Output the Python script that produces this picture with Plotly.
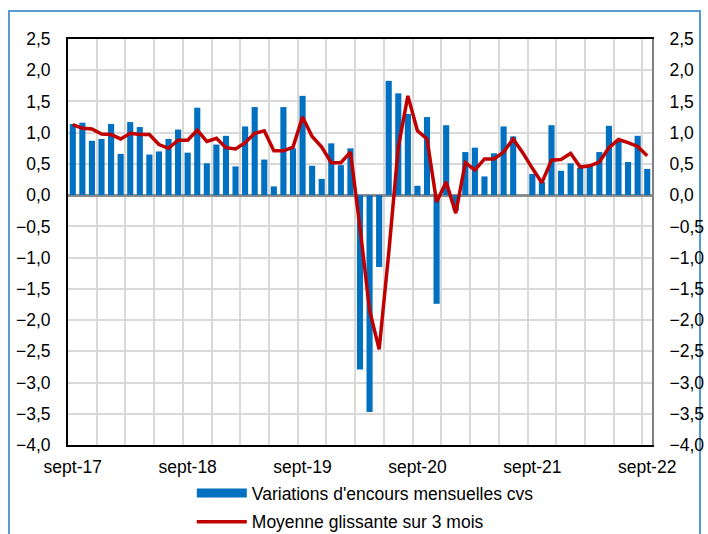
import plotly.graph_objects as go

# Month index 0 = sept-17 ... 60 = sept-22
months = list(range(61))
tick_pos = [0, 12, 24, 36, 48, 60]
tick_labels = ["sept-17", "sept-18", "sept-19", "sept-20", "sept-21", "sept-22"]

bars = [1.14, 1.16, 0.87, 0.90, 1.14, 0.66, 1.17, 1.09, 0.65, 0.70,
        0.90, 1.05, 0.68, 1.40, 0.51, 0.81, 0.95, 0.46, 1.10, 1.41,
        0.57, 0.14, 1.41, 0.75, 1.59, 0.47, 0.26, 0.83, 0.48, 0.75,
        -2.79, -3.47, -1.15, 1.83, 1.63, 1.30, 0.15, 1.25, -1.74, 1.12,
        -0.25, 0.69, 0.76, 0.30, 0.67, 1.10, 0.94, 0.00, 0.34, 0.21,
        1.12, 0.39, 0.51, 0.44, 0.47, 0.69, 1.11, 0.87, 0.53, 0.95,
        0.42]

moving_avg = [1.13, 1.07, 1.06, 0.98, 0.97, 0.90, 0.99, 0.97, 0.97, 0.81,
              0.75, 0.88, 0.88, 1.04, 0.86, 0.91, 0.76, 0.74, 0.84, 0.99,
              1.03, 0.71, 0.71, 0.77, 1.25, 0.94, 0.77, 0.52, 0.52, 0.69,
              -0.52, -1.84, -2.47, -0.93, 0.77, 1.59, 1.03, 0.90, -0.11, 0.21,
              -0.29, 0.52, 0.40, 0.58, 0.58, 0.69, 0.90, 0.68, 0.43, 0.20,
              0.56, 0.57, 0.67, 0.45, 0.47, 0.53, 0.76, 0.89, 0.84, 0.78,
              0.63]

y_ticks = [2.5, 2.0, 1.5, 1.0, 0.5, 0.0, -0.5, -1.0, -1.5, -2.0, -2.5, -3.0, -3.5, -4.0]

bar_name = "Variations d'encours mensuelles cvs"
line_name = "Moyenne glissante sur 3 mois"

BLUE = "#0070C0"
RED = "#C00000"
font = dict(family="Liberation Sans, Arial, sans-serif", size=17.5, color="#000000")

fig = go.Figure()
fig.add_trace(go.Bar(
    x=months, y=bars, name=bar_name,
    marker=dict(color=BLUE, line=dict(width=0)),
    showlegend=False, legendgroup="a",
))
# legend entry for the bars (wide rectangle key, as in the original)
fig.add_trace(go.Scatter(
    x=[None], y=[None], mode="lines", name=bar_name,
    line=dict(color=BLUE, width=9), legendgroup="a", hoverinfo="skip",
))
fig.add_trace(go.Scatter(
    x=months, y=moving_avg, mode="lines", name=line_name,
    line=dict(color=RED, width=3.5), legendgroup="b",
))
# invisible trace to carry the right-hand axis
fig.add_trace(go.Scatter(x=[0], y=[0], yaxis="y2", mode="markers",
                         marker=dict(opacity=0), showlegend=False, hoverinfo="skip"))

fig.update_layout(
    width=708, height=534,
    margin=dict(l=68, r=56, t=39, b=89, autoexpand=False),
    paper_bgcolor="white", plot_bgcolor="white",
    font=font,
    separators=", ",
    bargap=0.36,
    showlegend=True,
    legend=dict(x=0.212, y=-0.074, xanchor="left", yanchor="top",
                orientation="v", font=font, traceorder="grouped",
                tracegroupgap=3, itemwidth=50, bgcolor="rgba(0,0,0,0)"),
    xaxis=dict(range=[-0.5, 60.5], tickmode="array", tickvals=tick_pos,
               ticktext=tick_labels, showgrid=False, ticks="",
               ticklabelstandoff=5,
               showline=True, linecolor="#000000", linewidth=2, mirror=True,
               zeroline=False, tickfont=font,
               minor=dict(tick0=-0.5, dtick=3, showgrid=True,
                          gridcolor="#D9D9D9", gridwidth=2, ticks="")),
    yaxis=dict(range=[-4.0, 2.5], tickmode="array", tickvals=y_ticks,
               tickformat=".1f", showgrid=True, gridcolor="#D9D9D9", gridwidth=2,
               zeroline=True, zerolinecolor="#8C8C8C", zerolinewidth=3,
               showline=True, linecolor="#000000", linewidth=2,
               ticks="", ticklabelstandoff=12, tickfont=font),
    yaxis2=dict(range=[-4.0, 2.5], tickmode="array", tickvals=y_ticks,
                tickformat=".1f", overlaying="y", side="right", showgrid=False,
                zeroline=False, showline=True, linecolor="#808080", linewidth=2,
                ticks="", ticklabelstandoff=12, tickfont=font),
    shapes=[dict(type="rect", xref="paper", yref="paper",
                 x0=-0.101, x1=1.0822, y0=-0.28, y1=1.069,
                 line=dict(color="#5B9BD5", width=2), fillcolor="rgba(0,0,0,0)",
                 layer="below")],
)

fig.write_html("out.html", config={"displayModeBar": False},
               post_script="document.body.style.margin='0px';document.body.style.overflow='hidden';")
